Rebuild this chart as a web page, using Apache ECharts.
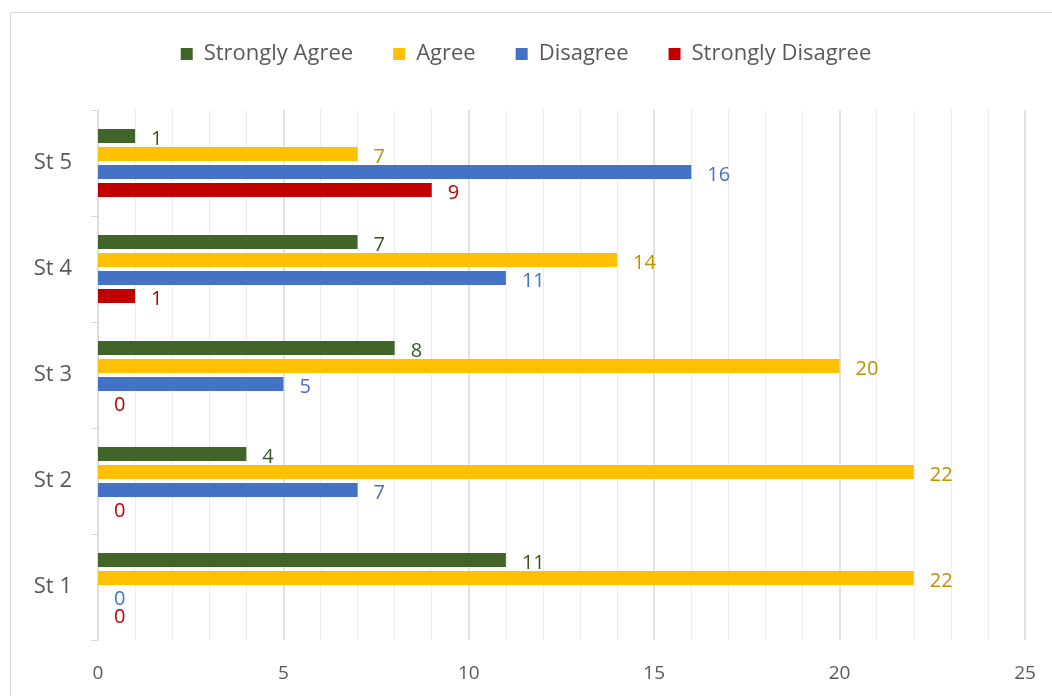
<!DOCTYPE html>
<html><head><meta charset="utf-8">
<script src="https://cdn.jsdelivr.net/npm/echarts@6/dist/echarts.min.js"></script>
<style>html,body{margin:0;padding:0;background:#fff}#c{width:1052px;height:696px}</style>
</head><body><div id="c"></div>
<script>
const categories = ['St 1','St 2','St 3','St 4','St 5'];
const stronglyAgree = [11,4,8,7,1];
const agree = [22,22,20,14,7];
const disagree = [0,7,5,11,16];
const stronglyDisagree = [0,0,0,1,9];
const xTicks = [0,5,10,15,20,25];

const font = 'Open Sans';
function mk(name, data, color, labelColor){
  return {name, type:'bar', data, barWidth:14, barGap:'28%', barCategoryGap:'36%',
    itemStyle:{color},
    label:{show:true, position:'right', distance:16, offset:[0,3], color:labelColor, fontSize:20, fontFamily:font}};
}
const chart = echarts.init(document.getElementById('c'));
chart.setOption({
  animation:false,
  graphic:[{type:'rect', shape:{x:10.5,y:12.5,width:1100,height:800}, style:{fill:'none', stroke:'#d9d9d9', lineWidth:1}}],
  legend:{top:38, left:'center', itemWidth:12, itemHeight:12, itemGap:40, icon:'rect',
    data:['Strongly Agree','Agree','Disagree','Strongly Disagree'],
    textStyle:{fontSize:22, color:'#595959', fontFamily:font, padding:[0,0,0,6]}},
  grid:{left:98, right:27, top:110, bottom:56, containLabel:false},
  xAxis:{type:'value', min:0, max:25, interval:5,
    axisLine:{show:false}, axisTick:{show:false},
    axisLabel:{color:'#595959', fontSize:19, fontFamily:font, margin:24,
      formatter:v=>xTicks.includes(v)?String(v):''},
    splitLine:{show:true, lineStyle:{color:'#d9d9d9', width:1.5}},
    minorTick:{show:false, splitNumber:5},
    minorSplitLine:{show:true, lineStyle:{color:'#ececec', width:1}}},
  yAxis:{type:'category', data:categories,
    axisLine:{show:true, lineStyle:{color:'#d9d9d9'}},
    axisTick:{show:true, length:7, lineStyle:{color:'#d9d9d9'}},
    axisLabel:{color:'#595959', fontSize:22, fontFamily:font, margin:26}},
  series:[
    mk('Strongly Agree', stronglyAgree, '#416528', '#375623'),
    mk('Agree', agree, '#ffc000', '#bf9000'),
    mk('Disagree', disagree, '#4472c4', '#4472c4'),
    mk('Strongly Disagree', stronglyDisagree, '#c00000', '#c00000')
  ]
});
</script></body></html>
